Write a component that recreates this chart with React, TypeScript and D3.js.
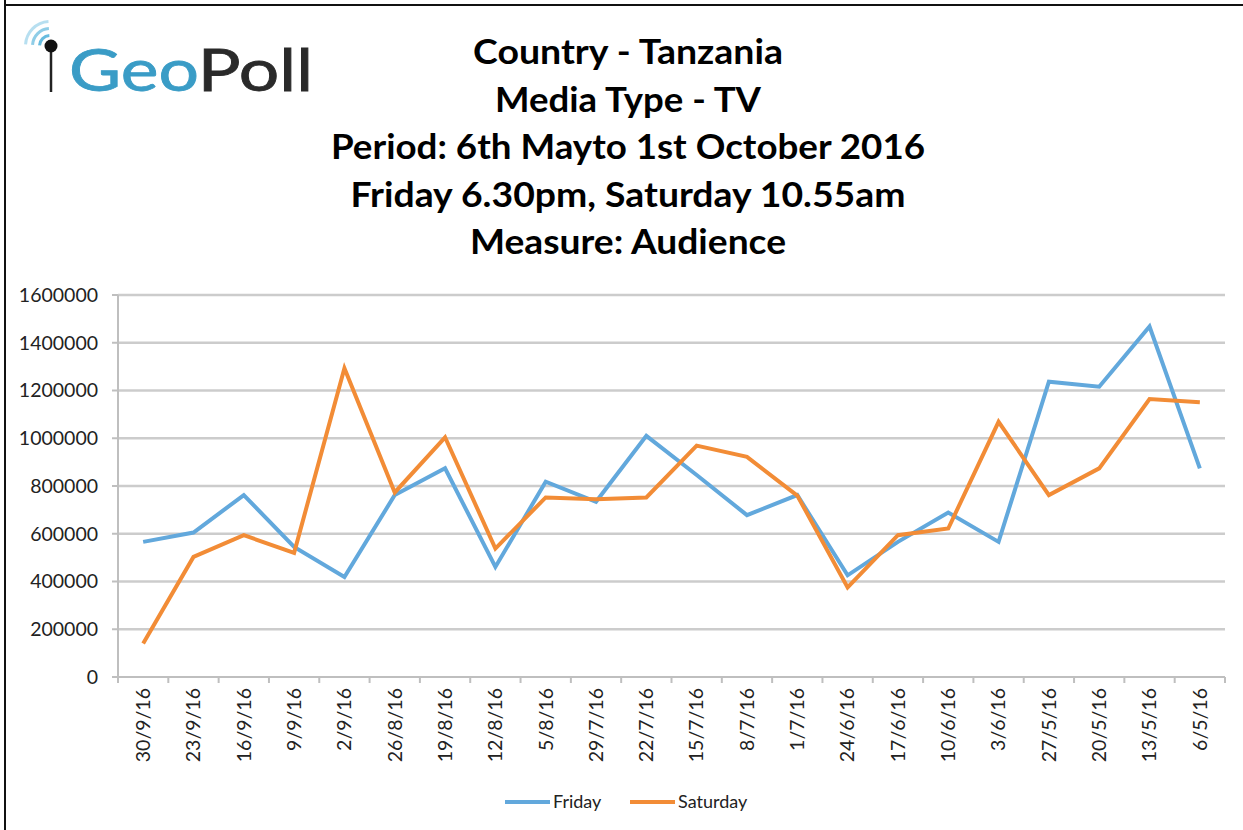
import React from 'react';
import * as d3 from 'd3';

const dates = ['30/9/16', '23/9/16', '16/9/16', '9/9/16', '2/9/16', '26/8/16', '19/8/16', '12/8/16', '5/8/16', '29/7/16', '22/7/16', '15/7/16', '8/7/16', '1/7/16', '24/6/16', '17/6/16', '10/6/16', '3/6/16', '27/5/16', '20/5/16', '13/5/16', '6/5/16'];
const friday = [566000, 605000, 762000, 545000, 419000, 762000, 874000, 461000, 818000, 734000, 1010000, 846000, 678000, 762000, 426000, 566000, 689000, 566000, 1237000, 1216000, 1468000, 874000];
const saturday = [140000, 503000, 594000, 520000, 1293000, 773000, 1004000, 538000, 752000, 745000, 752000, 969000, 922000, 760000, 375000, 594000, 622000, 1069000, 762000, 874000, 1164000, 1151000];
const yTicks = [0, 200000, 400000, 600000, 800000, 1000000, 1200000, 1400000, 1600000];
const titleLines = ['Country - Tanzania', 'Media Type - TV', 'Period: 6th Mayto 1st October 2016', 'Friday 6.30pm, Saturday 10.55am', 'Measure: Audience'];
const titleWidths = [310, 266, 594, 555, 316];

const W = 1243;
const H = 830;
const left = 118, right = 1225, top = 295, bottom = 677;
const font = 'Lato, "Open Sans", sans-serif';

const series = [
  { name: 'Friday', values: friday, color: '#62a8dc' },
  { name: 'Saturday', values: saturday, color: '#f28c36' },
];

export default function App() {
  const x = d3.scaleBand<string>().domain(dates).range([left, right]);
  const y = d3.scaleLinear().domain([0, 1600000]).range([bottom, top]);
  const cx = (d: string) => (x(d) as number) + x.bandwidth() / 2;

  const line = d3.line<number>()
    .x((_, i) => cx(dates[i]))
    .y(v => y(v));

  // band edges for the x ticks
  const edges = dates.map(d => x(d) as number).concat([right]);

  return (
    <svg width={W} height={H} style={{ position: 'absolute', left: 0, top: 0, background: '#fff' }}>
      {/* frame */}
      <line x1={5} y1={0} x2={5} y2={H} stroke="#111" strokeWidth={2} />
      <line x1={5} y1={5} x2={W} y2={5} stroke="#111" strokeWidth={2} />

      {/* logo */}
      <g>
        {[9, 16, 23].map((r, i) => (
          <path key={r}
            d={d3.arc()({ innerRadius: r, outerRadius: r + 3, startAngle: -Math.PI * 0.48, endAngle: -Math.PI * 0.02 }) as string}
            transform="translate(50,46)" fill="#5fb8dd" opacity={0.95 - i * 0.25} />
        ))}
        <line x1={51} y1={50} x2={51} y2={92} stroke="#222" strokeWidth={2.5} />
        <circle cx={51} cy={46} r={6.5} fill="#111" />
        <text x={69} y={91} fontFamily={font} fontWeight={400} fontSize={58} textLength={244} lengthAdjust="spacingAndGlyphs"
          stroke="currentColor" strokeWidth={0.8}>
          <tspan fill="#3a9cc6" stroke="#3a9cc6">Geo</tspan><tspan fill="#2a2a2a" stroke="#2a2a2a">Poll</tspan>
        </text>
      </g>

      {/* title */}
      {titleLines.map((t, i) => (
        <text key={t} x={628} y={64 + i * 47.5} textAnchor="middle" fontFamily={font} fontWeight={700}
          fontSize={34} fill="#000" textLength={titleWidths[i]} lengthAdjust="spacingAndGlyphs">{t}</text>
      ))}

      {/* gridlines */}
      {yTicks.map(t => (
        <g key={t}>
          {t > 0 && <line x1={left} x2={right} y1={y(t)} y2={y(t)} stroke="#cccccc" strokeWidth={2.5} />}
          <line x1={left - 6} x2={left} y1={y(t)} y2={y(t)} stroke="#bfbfbf" strokeWidth={2} />
          <text x={98} y={y(t)} dy="0.35em" textAnchor="end" fontFamily={font} fontSize={19.5} fill="#222">{t}</text>
        </g>
      ))}

      {/* axes */}
      <line x1={left} x2={left} y1={top} y2={bottom} stroke="#bfbfbf" strokeWidth={2} />
      <line x1={left} x2={right} y1={bottom} y2={bottom} stroke="#bfbfbf" strokeWidth={2} />
      {edges.map((e, i) => (
        <line key={i} x1={e} x2={e} y1={bottom} y2={bottom + 6} stroke="#bfbfbf" strokeWidth={2} />
      ))}
      {dates.map(d => (
        <text key={d} transform={`translate(${cx(d)},688) rotate(-90)`} textAnchor="end" dy="0.35em"
          fontFamily={font} fontSize={19.5} fill="#222">{d}</text>
      ))}

      {/* series */}
      {series.map(s => (
        <path key={s.name} d={line(s.values) as string} fill="none" stroke={s.color} strokeWidth={4} strokeLinejoin="miter" />
      ))}

      {/* legend */}
      <line x1={505} x2={550} y1={802} y2={802} stroke={series[0].color} strokeWidth={4} />
      <text x={553} y={802} dy="0.35em" fontFamily={font} fontSize={18} fill="#222">Friday</text>
      <line x1={630} x2={675} y1={802} y2={802} stroke={series[1].color} strokeWidth={4} />
      <text x={678} y={802} dy="0.35em" fontFamily={font} fontSize={18} fill="#222">Saturday</text>
    </svg>
  );
}
